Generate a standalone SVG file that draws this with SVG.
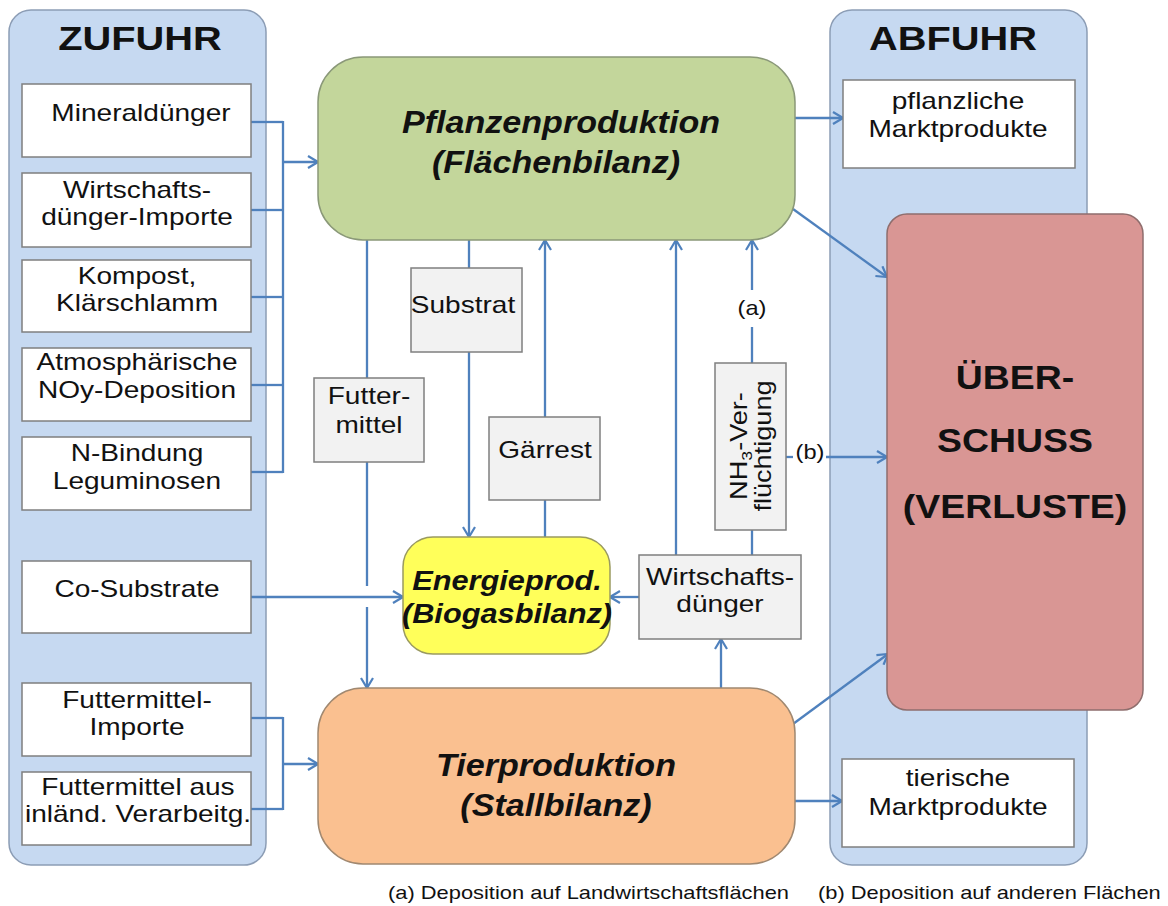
<svg xmlns="http://www.w3.org/2000/svg" width="1168" height="906" viewBox="0 0 1168 906">
<defs>
<marker id="arr" markerUnits="userSpaceOnUse" viewBox="0 0 12 14" refX="11" refY="7" markerWidth="12" markerHeight="14" orient="auto">
<path d="M1,1 L11,7 L1,13" fill="none" stroke="#4f81bd" stroke-width="2.2"/>
</marker>
</defs>
<style>
text{font-family:"Liberation Sans",Arial,sans-serif;fill:#111;text-anchor:middle}
.panel{fill:#c6d9f1;stroke:#8c9db5;stroke-width:1.5}
.wbox{fill:#fff;stroke:#7f7f7f;stroke-width:1.5}
.gbox{fill:#f2f2f2;stroke:#7f7f7f;stroke-width:1.5}
.t22{font-size:23px}
.ttl{font-size:34px;font-weight:bold}
.big{font-size:31px;font-weight:bold;font-style:italic}
.mid{font-size:27px;font-weight:bold;font-style:italic}
.ub{font-size:34px;font-weight:bold}
.fn{font-size:17.5px;text-anchor:start}
.lbl{font-size:20px}
.c line,.c path{stroke:#4f81bd;stroke-width:2.3;fill:none}
.c .a{marker-end:url(#arr)}
</style>
<rect width="1168" height="906" fill="#fff"/>

<g id="zufuhr">
<rect class="panel" x="9" y="10" width="257" height="855" rx="22"/>
<text class="ttl" transform="translate(140,50) scale(1.17,1)">ZUFUHR</text>
</g>
<g id="abfuhr">
<rect class="panel" x="830" y="10" width="257" height="855" rx="22"/>
<text class="ttl" transform="translate(953,50) scale(1.17,1)">ABFUHR</text>
</g>

<g id="connectors" class="c">
<line x1="251" y1="122" x2="283" y2="122"/>
<line x1="251" y1="210" x2="283" y2="210"/>
<line x1="251" y1="297" x2="283" y2="297"/>
<line x1="251" y1="385" x2="283" y2="385"/>
<line x1="251" y1="472" x2="283" y2="472"/>
<line x1="283" y1="121" x2="283" y2="473"/>
<line class="a" x1="283" y1="162" x2="318" y2="162"/>
<line x1="251" y1="718" x2="283" y2="718"/>
<line x1="251" y1="809" x2="283" y2="809"/>
<line x1="283" y1="717" x2="283" y2="810"/>
<line class="a" x1="283" y1="764" x2="318" y2="764"/>
<line class="a" x1="251" y1="597" x2="403" y2="597"/>
<line x1="367" y1="240" x2="367" y2="586"/>
<line class="a" x1="367" y1="607" x2="367" y2="688"/>
<line class="a" x1="469" y1="240" x2="469" y2="537"/>
<line class="a" x1="545" y1="537" x2="545" y2="240"/>
<line class="a" x1="676" y1="555" x2="676" y2="240"/>
<line x1="752" y1="555" x2="752" y2="327"/>
<line class="a" x1="752" y1="290" x2="752" y2="240"/>
<line x1="786" y1="457" x2="793" y2="457"/>
<line class="a" x1="826" y1="457" x2="887" y2="457"/>
<line class="a" x1="639" y1="597" x2="610" y2="597"/>
<line class="a" x1="721" y1="688" x2="721" y2="639"/>
<line class="a" x1="795" y1="118" x2="843" y2="118"/>
<line class="a" x1="793" y1="209" x2="887" y2="277"/>
<line class="a" x1="793" y1="724" x2="888" y2="654"/>
<line class="a" x1="795" y1="801" x2="842" y2="801"/>
</g>

<g id="mineral"><rect class="wbox" x="22" y="84" width="229" height="73"/>
<text class="t22" transform="translate(141,121) scale(1.22,1)">Mineraldünger</text></g>
<g id="wd-import"><rect class="wbox" x="22" y="173" width="229" height="74"/>
<text class="t22" transform="translate(137,198) scale(1.22,1)">Wirtschafts-</text>
<text class="t22" transform="translate(137,225) scale(1.22,1)">dünger-Importe</text></g>
<g id="kompost"><rect class="wbox" x="22" y="260" width="229" height="72"/>
<text class="t22" transform="translate(137,284) scale(1.22,1)">Kompost,</text>
<text class="t22" transform="translate(137,311) scale(1.22,1)">Klärschlamm</text></g>
<g id="noy"><rect class="wbox" x="22" y="348" width="229" height="73"/>
<text class="t22" transform="translate(137,370) scale(1.22,1)">Atmosphärische</text>
<text class="t22" transform="translate(137,398) scale(1.22,1)">NOy-Deposition</text></g>
<g id="nbind"><rect class="wbox" x="22" y="437" width="229" height="73"/>
<text class="t22" transform="translate(137,461) scale(1.22,1)">N-Bindung</text>
<text class="t22" transform="translate(137,489) scale(1.22,1)">Leguminosen</text></g>
<g id="cosub"><rect class="wbox" x="22" y="561" width="229" height="72"/>
<text class="t22" transform="translate(137,597) scale(1.22,1)">Co-Substrate</text></g>
<g id="fm-import"><rect class="wbox" x="22" y="683" width="229" height="73"/>
<text class="t22" transform="translate(137,708) scale(1.22,1)">Futtermittel-</text>
<text class="t22" transform="translate(137,735) scale(1.22,1)">Importe</text></g>
<g id="fm-inland"><rect class="wbox" x="22" y="772" width="229" height="73"/>
<text class="t22" transform="translate(138,795) scale(1.22,1)">Futtermittel aus</text>
<text class="t22" transform="translate(138,822) scale(1.22,1)">inländ. Verarbeitg.</text></g>

<g id="pflanzen"><rect x="318" y="57" width="477" height="183" rx="45" fill="#c3d69b" stroke="#8a9878" stroke-width="1.5"/>
<text class="big" transform="translate(561,133) scale(1.1,1)">Pflanzenproduktion</text>
<text class="big" transform="translate(556,173) scale(1.1,1)">(Flächenbilanz)</text></g>

<g id="tier"><rect x="318" y="688" width="477" height="176" rx="45" fill="#fac090" stroke="#a08870" stroke-width="1.5"/>
<text class="big" transform="translate(556,776) scale(1.1,1)">Tierproduktion</text>
<text class="big" transform="translate(556,816) scale(1.1,1)">(Stallbilanz)</text></g>

<g id="energie"><rect x="403" y="537" width="207" height="117" rx="30" fill="#ffff5a" stroke="#9a9a60" stroke-width="1.5"/>
<text class="mid" transform="translate(507,590) scale(1.14,1)">Energieprod.</text>
<text class="mid" transform="translate(507,623) scale(1.14,1)">(Biogasbilanz)</text></g>

<g id="substrat"><rect class="gbox" x="411" y="268" width="111" height="84"/>
<text class="t22" transform="translate(463,313) scale(1.22,1)">Substrat</text></g>
<g id="futtermittel"><rect class="gbox" x="314" y="378" width="110" height="84"/>
<text class="t22" transform="translate(369,404) scale(1.22,1)">Futter-</text>
<text class="t22" transform="translate(369,433) scale(1.22,1)">mittel</text></g>
<g id="gaerrest"><rect class="gbox" x="489" y="417" width="111" height="83"/>
<text class="t22" transform="translate(545,458) scale(1.22,1)">Gärrest</text></g>
<g id="wirtschaftsduenger"><rect class="gbox" x="639" y="555" width="162" height="84"/>
<text class="t22" transform="translate(720,585) scale(1.22,1)">Wirtschafts-</text>
<text class="t22" transform="translate(720,612) scale(1.22,1)">dünger</text></g>
<g id="nh3"><rect class="gbox" x="715" y="363" width="71" height="167"/>
<text class="t22" transform="translate(750,446) rotate(-90) scale(1.18,1)" y="-3">NH<tspan font-size="15" dy="5">3</tspan><tspan dy="-5">-Ver-</tspan></text>
<text class="t22" transform="translate(750,446) rotate(-90) scale(1.18,1)" y="21">flüchtigung</text></g>

<g id="label-a"><text class="lbl" transform="translate(752,315) scale(1.18,1)">(a)</text></g>
<g id="label-b"><text class="lbl" transform="translate(810,459) scale(1.18,1)">(b)</text></g>

<g id="pfl-markt"><rect class="wbox" x="843" y="80" width="232" height="88"/>
<text class="t22" transform="translate(958,109) scale(1.22,1)">pflanzliche</text>
<text class="t22" transform="translate(958,137) scale(1.22,1)">Marktprodukte</text></g>
<g id="tier-markt"><rect class="wbox" x="842" y="759" width="232" height="88"/>
<text class="t22" transform="translate(958,786) scale(1.22,1)">tierische</text>
<text class="t22" transform="translate(958,815) scale(1.22,1)">Marktprodukte</text></g>

<g id="ueberschuss"><rect x="887" y="214" width="256" height="496" rx="20" fill="#d99694" stroke="#8f6e6d" stroke-width="1.5"/>
<text class="ub" transform="translate(1015,389) scale(1.1,1)">ÜBER-</text>
<text class="ub" transform="translate(1015,452) scale(1.1,1)">SCHUSS</text>
<text class="ub" transform="translate(1015,518) scale(1.1,1)">(VERLUSTE)</text></g>

<g id="footnotes">
<text class="fn" transform="translate(388,899) scale(1.25,1)">(a) Deposition auf Landwirtschaftsflächen</text>
<text class="fn" transform="translate(818,899) scale(1.25,1)">(b) Deposition auf anderen Flächen</text>
</g>
</svg>
